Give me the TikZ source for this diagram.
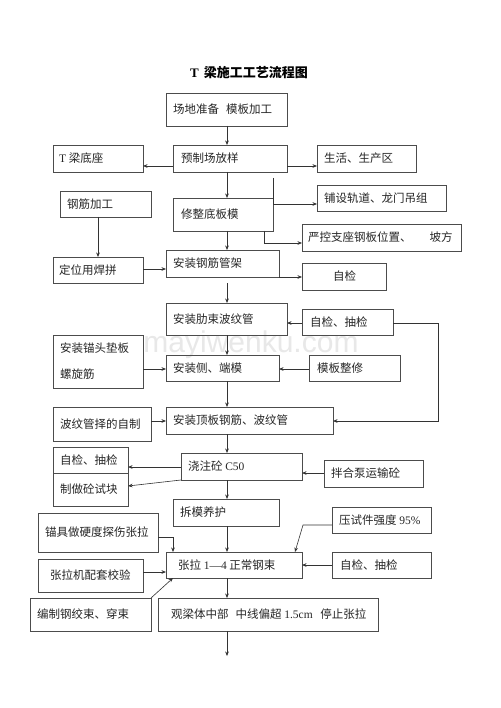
\documentclass[tikz,border=0pt]{standalone}
\usepackage{fontspec}
\setmainfont{Liberation Serif}
\setsansfont{Liberation Sans}
\newfontfamily\cjk{Noto Sans CJK SC}
\usetikzlibrary{arrows.meta}
\tikzset{
  box/.style={draw=black!70,line width=0.7pt,inner sep=0pt,outer sep=0pt},
  txt/.style={inner sep=0pt,align=left,text=black!85,font=\cjk\fontsize{11.5}{14}\selectfont},
  arr/.style={draw=black!80,line width=0.6pt,-{Stealth[length=4.5pt,width=3.6pt]}},
  ln/.style={draw=black!80,line width=0.6pt}
}
\newcommand\bx[7][7pt]{%
  \node[box,minimum width={(#5-#3)*1pt},minimum height={(#6-#4)*1pt}] (#2) at ({(#3+#5)/2},{(#4+#6)/2}) {};
  \node[txt,anchor=west] (#2-t) at ([xshift=#1]#2.west) {#7};}
\begin{document}
\begin{tikzpicture}[x=1pt,y=-1pt]
\useasboundingbox[fill=white] (0,0) rectangle (500,708);
\node[font=\sffamily\fontsize{30}{30}\selectfont,text=black!9] (wm) at (251,345) {mayiwenku.com};
\node[font=\cjk\bfseries\fontsize{13}{15}\selectfont] (title) at (249,73) {{\rmfamily\bfseries T}\hspace{2pt} 梁施工工艺流程图};
% boxes
\bx{sd}{166}{93}{287}{126}{场地准备\hspace{7pt}模板加工}
\bx[6pt]{tl}{53}{145}{143}{172}{{\rmfamily T} 梁底座}
\bx[8pt]{yz}{173}{145}{287}{172}{预制场放样}
\bx{sh}{317}{145}{416}{172}{生活、生产区}
\bx{gj}{60}{191}{151}{217}{钢筋加工}
\bx[8pt]{xz}{173}{198}{273}{231}{修整底板模}
\bx{pz}{317}{185}{446}{211}{铺设轨道、龙门吊组}
\bx[6pt]{yk}{302}{224}{461}{251}{严控支座钢板位置、\hspace{18pt}坡方}
\bx[6pt]{dw}{53}{257}{143}{283}{定位用焊拼}
\bx{gjgj}{166}{250}{279}{277}{安装钢筋管架}
\bx[31pt]{zja}{302}{263}{386}{290}{自检}
\bx{lb}{166}{303}{287}{335}{安装肋束波纹管}
\bx[8pt]{zca}{302}{309}{393}{335}{自检、抽检}
\bx[7pt]{mt}{53}{335}{143}{388}{安装锚头垫板\\[12pt]螺旋筋}
\bx{cd}{166}{355}{279}{381}{安装侧、端模}
\bx[8pt]{mx}{309}{355}{400}{381}{模板整修}
\bx{bw}{53}{407}{151}{441}{波纹管择的自制}
\bx{db}{166}{407}{333}{434}{安装顶板钢筋、波纹管}
\bx{zcb}{53}{447}{128}{473}{自检、抽检}
\bx{zk}{53}{473}{128}{506}{制做砼试块}
\bx{jz}{181}{453}{302}{480}{浇注砼 {\rmfamily C50}}
\bx{bh}{324}{460}{423}{487}{拌合泵运输砼}
\bx{cm}{173}{499}{279}{526}{拆模养护}
\bx{ys}{332}{507}{431}{533}{压试件强度 {\rmfamily 95\%}}
\bx{mj}{38}{513}{158}{552}{锚具做硬度探伤张拉}
\bx[12pt]{zl}{166}{552}{302}{578}{张拉 {\rmfamily 1—4} 正常钢束}
\bx[12pt]{jy}{38}{559}{143}{592}{张拉机配套校验}
\bx{bz}{30}{598}{151}{631}{编制钢绞束、穿束}
\bx[8pt]{zcc}{332}{552}{431}{578}{自检、抽检}
\bx[13pt]{gl}{158}{598}{378}{631}{观梁体中部\hspace{7pt}中线偏超 {\rmfamily 1.5cm}\hspace{5pt} 停止张拉}
% connectors
\draw[arr] (sd.south -| 227,0) -- (yz.north -| 227,0);
\draw[arr] (yz.west |- 0,166) -- (tl.east |- 0,166);
\draw[arr] (yz.east |- 0,166) -- (sh.west |- 0,166);
\draw[arr] (yz.south -| 227,0) -- (xz.north -| 227,0);
\coordinate (p5) at (273,178);
\draw[arr] (p5) |- (pz.west |- 0,204);
\draw[arr] (xz.south -| 264,0) |- (yk.west |- 0,243);
\draw[arr] (xz.south -| 227,0) -- (gjgj.north -| 227,0);
\draw[arr] (gj.south -| 98,0) -- (dw.north -| 98,0);
\draw[arr] (dw.east |- 0,269) -- (gjgj.west |- 0,269);
\draw[arr] (gjgj.south east) -- (zja.west |- gjgj.south east);
\coordinate (p11) at (227,283);
\draw[arr] (p11) -- (lb.north -| 227,0);
\draw[arr] (zca.west |- 0,323) -- (lb.east |- 0,323);
\coordinate (k13) at (438,421);
\draw[arr] (zca.east |- 0,323) -| (k13) -- (db.east |- 0,421);
\draw[arr] (lb.south -| 227,0) -- (cd.north -| 227,0);
\draw[arr] (mt.east |- 0,369) -- (cd.west |- 0,369);
\draw[arr] (mx.west |- 0,369) -- (cd.east |- 0,369);
\draw[arr] (cd.south -| 227,0) -- (db.north -| 227,0);
\draw[arr] (bw.east |- 0,421) -- (db.west |- 0,421);
\draw[arr] (db.south -| 227,0) -- (jz.north -| 227,0);
\draw[arr] (jz.west |- 0,467) -- (zcb.east |- 0,467);
\draw[arr] (jz.south west) -- (zk.east |- 0,486);
\draw[arr] (bh.west |- 0,473) -- (jz.east |- 0,473);
\draw[arr] (jz.south -| 227,0) -- (cm.north -| 227,0);
\draw[arr] (cm.south -| 227,0) -- (zl.north -| 227,0);
\coordinate (k25) at (303,525);
\draw[arr] (ys.west |- 0,525) -- (k25) -- (zl.north -| 295,0);
\draw[arr] (mj.east |- 0,537) -| (zl.north -| 173,0);
\draw[arr] (jy.east |- 0,572) -- (zl.west |- 0,572);
\draw[arr] (bz.north east) -- (zl.south -| 173,0);
\draw[arr] (zcc.west |- 0,565) -- (zl.east |- 0,565);
\draw[arr] (zl.south -| 227,0) -- (gl.north -| 227,0);
\coordinate (pend) at (227,656);
\draw[arr] (gl.south -| 227,0) -- (pend);
\end{tikzpicture}
\end{document}
